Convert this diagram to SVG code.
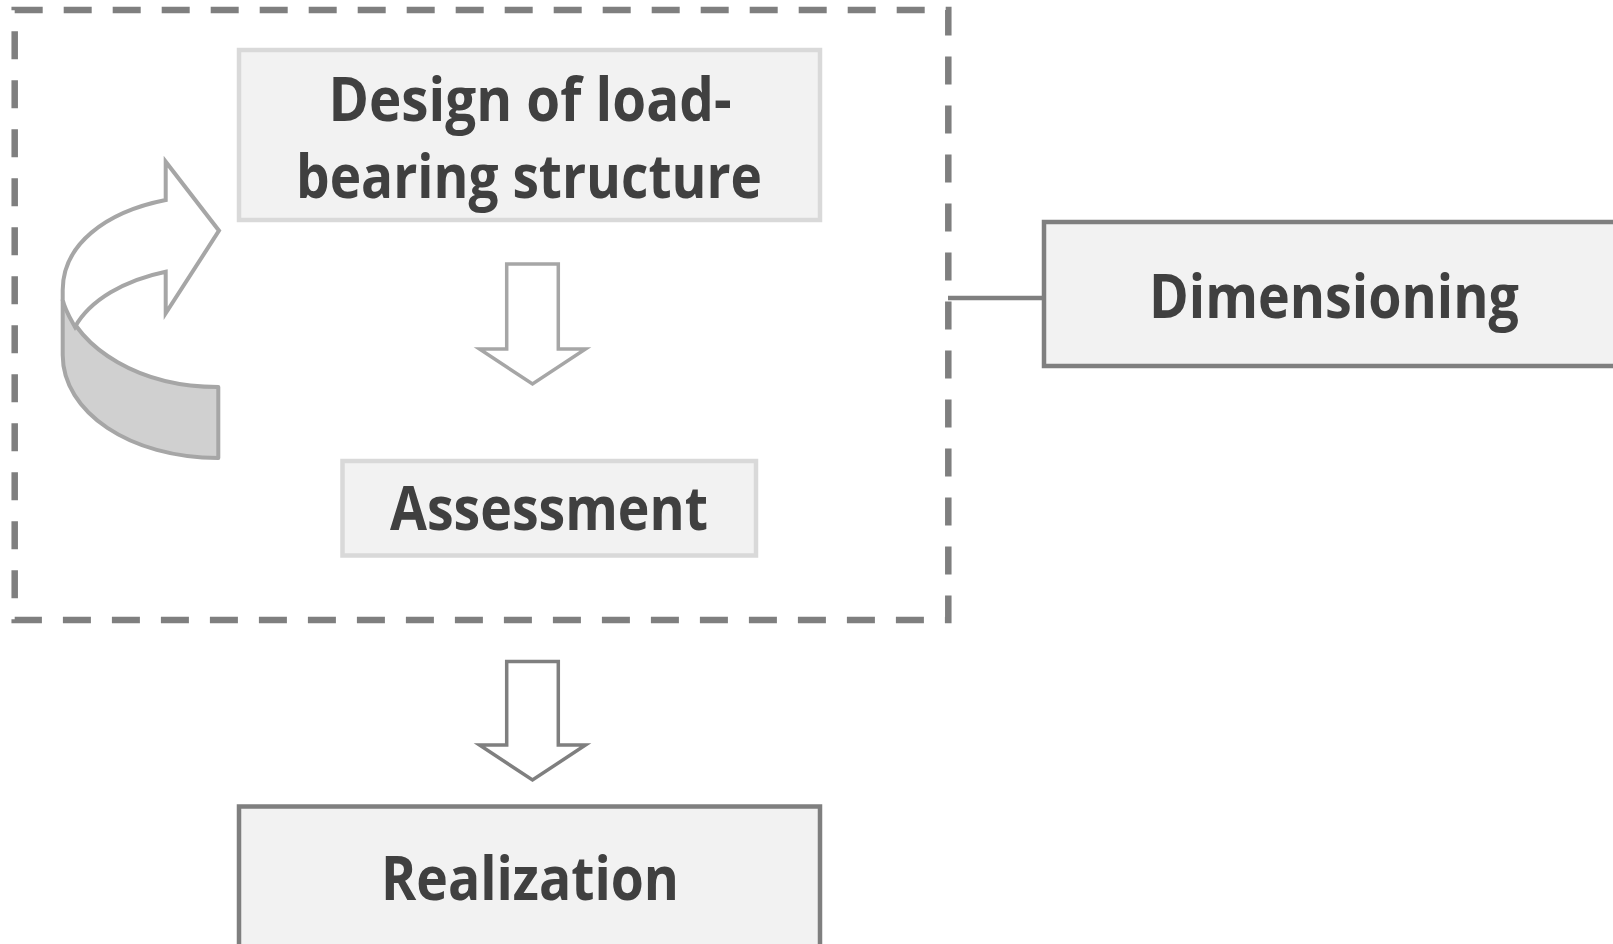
<svg xmlns="http://www.w3.org/2000/svg" width="1613" height="944" viewBox="0 0 1613 944">
<style>
.lbl{font-family:"Open Sans","Noto Sans","Liberation Sans",sans-serif;font-weight:700;font-size:61px;fill:#404040;text-anchor:middle}
.light{fill:#f2f2f2;stroke:#d9d9d9;stroke-width:4.5}
.dark{fill:#f2f2f2;stroke:#7f7f7f;stroke-width:4.5}
.blk{fill:#ffffff;stroke-width:3.5;stroke-linejoin:miter}
</style>
<rect width="1613" height="944" fill="#ffffff"/>
<g id="group-border">
<rect x="14.7" y="10" width="933.6" height="610" fill="none" stroke="#7f7f7f" stroke-width="6.5" stroke-dasharray="28 21"/>
</g>
<g id="connectors">
<line x1="948" y1="298" x2="1044" y2="298" stroke="#7f7f7f" stroke-width="4.5"/>
<path class="blk" stroke="#a6a6a6" d="M506.7 264 L558.3 264 L558.3 349 L585.5 349 L532.5 384 L479.5 349 L506.7 349 Z"/>
<path class="blk" stroke="#7f7f7f" d="M506.7 661.5 L558.3 661.5 L558.3 745 L585.5 745 L532.5 780 L479.5 745 L506.7 745 Z"/>
</g>
<g id="loop-arrow">
<path d="M62.7 300 C80 350 140 387 218.3 387 L218.3 458 C130 458 62.7 412 62.7 355 Z" fill="#d0d0d0" stroke="#a6a6a6" stroke-width="4" stroke-linejoin="round"/>
<path d="M62.7 300 L62.7 290 C62.7 245 105 212 165.7 200 L165.7 161.7 L219 230.7 L165.7 313.3 L165.7 271.7 C125 280 90 300 75 327 C70 318 65 310 62.7 300 Z" fill="#ffffff" stroke="#a6a6a6" stroke-width="4" stroke-linejoin="miter"/>
</g>
<g id="node-design">
<rect class="light" x="239" y="50" width="581" height="170"/>
<text class="lbl" x="530" y="121" textLength="403" lengthAdjust="spacingAndGlyphs">Design of load-</text>
<text class="lbl" x="529" y="197.5" textLength="466" lengthAdjust="spacingAndGlyphs">bearing structure</text>
</g>
<g id="node-assessment">
<rect class="light" x="342.5" y="461" width="413.5" height="94.5"/>
<text class="lbl" x="549" y="530" textLength="318" lengthAdjust="spacingAndGlyphs">Assessment</text>
</g>
<g id="node-dimensioning">
<rect class="dark" x="1044" y="222" width="600" height="144"/>
<text class="lbl" x="1334" y="318" textLength="370" lengthAdjust="spacingAndGlyphs">Dimensioning</text>
</g>
<g id="node-realization">
<rect class="dark" x="239" y="806.5" width="581" height="150"/>
<text class="lbl" x="530" y="900" textLength="298" lengthAdjust="spacingAndGlyphs">Realization</text>
</g>
</svg>
